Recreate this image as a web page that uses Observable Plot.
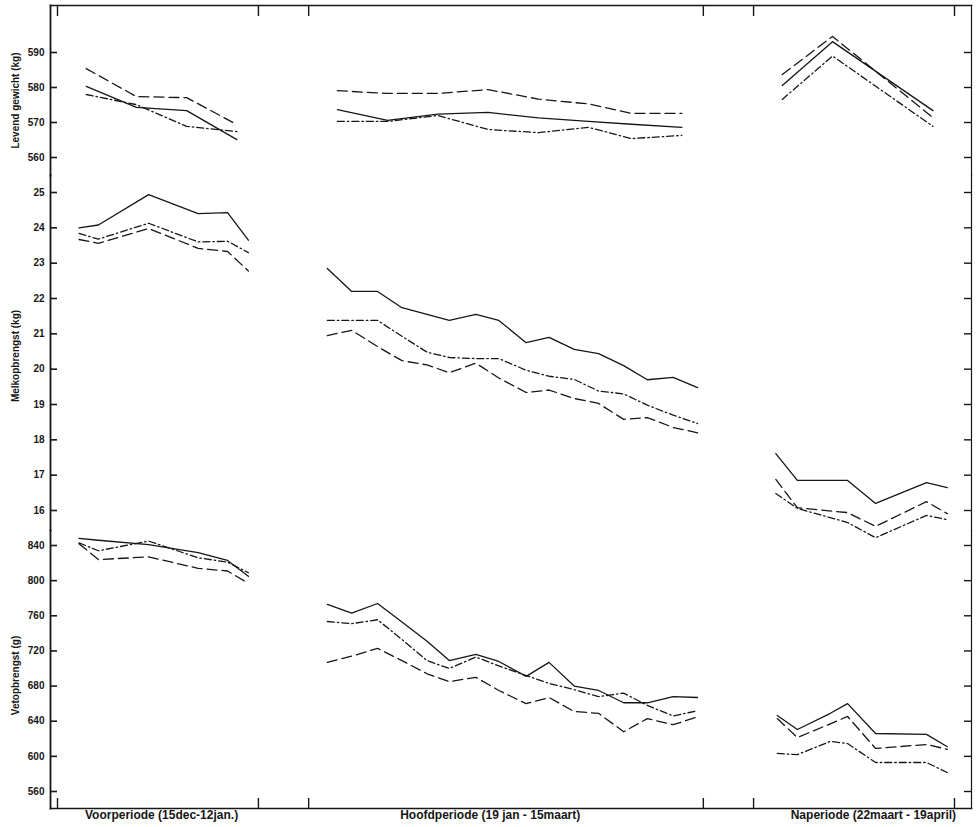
<!DOCTYPE html>
<html><head><meta charset="utf-8">
<script src="https://cdn.jsdelivr.net/npm/d3@7"></script>
<script src="https://cdn.jsdelivr.net/npm/@observablehq/plot@0.6"></script>
<style>
html,body{margin:0;padding:0;background:#fff;}
#chart{width:978px;height:827px;position:relative;}
#chart svg{display:block;overflow:visible;background:transparent;}
</style></head><body><div id="chart"></div>
<script>
// x = days since 15 december
const periodNames = ["Voorperiode (15dec-12jan.)", "Hoofdperiode (19 jan - 15maart)", "Naperiode (22maart - 19april)"];
const periodBounds = [0, 28, 35, 90, 97, 125];
const periodLabelDay = [14.5, 60.3, 113.7];

const groepen = ["Groep I", "Groep II", "Groep III"];

// Levend gewicht (kg)
const lgTicks = [560, 570, 580, 590];
const lgDays = [4, 11, 18, 25, 39, 46, 53, 60, 67, 74, 80, 87, 101, 108, 122];
const lgGroepI = [580.3, 574.3, 573.4, 565.1, 573.7, 570.6, 572.4, 572.9, 571.3, 570.3, 569.5, 568.6, 580.6, 593.1, 573.4];
const lgGroepII = [585.4, 577.4, 577.1, 569.4, 579.1, 578.3, 578.3, 579.4, 576.7, 575.3, 572.6, 572.6, 583.7, 594.6, 571.4];
const lgGroepIII = [578.0, 575.1, 568.9, 567.4, 570.3, 570.3, 572.0, 568.0, 567.1, 568.6, 565.4, 566.3, 576.6, 589.0, 568.9];

// Melkopbrengst (kg)
const melkTicks = [16, 17, 18, 19, 20, 21, 22, 23, 24, 25];
const melkDays = [3, 5.7, 12.7, 19.6, 23.7, 26.6, 37.6, 41, 44.6, 48, 51.5, 54.6, 58.3, 61.5, 65.3, 68.5, 72, 75.4, 78.9, 82.2, 85.8, 89.2, 100.1, 103.1, 110.1, 114, 121.1, 124];
const melkGroepI = [24.0, 24.08, 24.94, 24.4, 24.43, 23.65, 22.85, 22.2, 22.2, 21.74, 21.55, 21.38, 21.55, 21.38, 20.75, 20.9, 20.56, 20.44, 20.1, 19.7, 19.77, 19.48, 17.61, 16.85, 16.85, 16.2, 16.79, 16.65];
const melkGroepII = [23.67, 23.56, 23.98, 23.42, 23.33, 22.78, 20.95, 21.1, 20.64, 20.24, 20.12, 19.9, 20.17, 19.75, 19.34, 19.41, 19.17, 19.03, 18.58, 18.63, 18.35, 18.2, 16.88, 16.08, 15.94, 15.55, 16.25, 15.91];
const melkGroepIII = [23.84, 23.68, 24.13, 23.6, 23.62, 23.3, 21.38, 21.38, 21.38, 20.93, 20.48, 20.33, 20.3, 20.3, 19.97, 19.8, 19.71, 19.38, 19.3, 18.98, 18.7, 18.46, 16.48, 16.06, 15.66, 15.23, 15.86, 15.74];

// Vetopbrengst (g)
const vetTicks = [560, 600, 640, 680, 720, 760, 800, 840];
const vetDays = [3, 5.7, 12.7, 19.6, 23.7, 26.6, 37.6, 41, 44.6, 48, 51.5, 54.6, 58.3, 61.5, 65.3, 68.5, 72, 75.4, 78.9, 82.2, 85.8, 89.2, 100.3, 103.1, 107.7, 110.1, 114, 121.1, 124];
const vetGroepI = [848, 846, 841, 832, 823, 805, 773, 763, 774, 753, 731, 709, 716, 708, 691, 707, 680, 675, 661, 661, 668, 667, 646.5, 630.6, 649, 660, 626, 625, 611];
const vetGroepII = [842, 824, 827, 814, 811, 797, 707, 714, 723, 709, 694, 685, 690, 675, 660, 667, 651, 649, 628, 643, 636, 645, 643, 621.5, 637, 645.4, 609, 613.5, 608];
const vetGroepIII = [843, 834, 845, 826, 821, 809, 753.5, 751, 755.5, 733, 709, 700, 713, 703, 692, 683, 676, 668, 672, 658, 646, 652, 603.3, 602, 617, 614.6, 593, 593, 581.6];

const dash = ["none", "10,5", "7,3,1.5,3"];
const ink = "#161616";
const font = "'Liberation Sans', Arial, sans-serif";

function periodOf(d) { return d < periodBounds[1] ? 0 : d < periodBounds[3] ? 1 : 2; }

function rows(days, values, g) {
  return days.map((d, i) => ({day: d, value: values[i], groep: g, periode: periodOf(d)}));
}

function panel({height, marginTop, marginBottom, yDomain, yRange, ticks, days, series, title, titleDy, top, bottom}) {
  const marks = [];
  marks.push(Plot.frame({anchor: "left", stroke: ink, strokeWidth: 1.8}));
  marks.push(Plot.frame({anchor: "right", stroke: ink, strokeWidth: 1.2}));
  marks.push(Plot.axisY({ticks, anchor: "left", tickSize: -7, tickFormat: () => "", label: null, stroke: ink, strokeWidth: 1.6}));
  marks.push(Plot.axisY({ticks, anchor: "left", tickSize: 0, tickPadding: 6, label: null, fontSize: 10, fontWeight: "bold", fill: ink}));
  marks.push(Plot.axisY({ticks, anchor: "right", tickSize: -8, tickFormat: () => "", label: null, stroke: ink, strokeWidth: 1.4}));
  if (top) {
    marks.push(Plot.frame({anchor: "top", stroke: ink, strokeWidth: 1.5}));
    marks.push(Plot.axisX({ticks: periodBounds, anchor: "top", tickSize: -10, tickFormat: () => "", label: null, stroke: ink, strokeWidth: 1.4}));
  }
  if (bottom) {
    marks.push(Plot.frame({anchor: "bottom", stroke: ink, strokeWidth: 1.5}));
    marks.push(Plot.axisX({ticks: periodBounds, anchor: "bottom", tickSize: -10, tickFormat: () => "", label: null, stroke: ink, strokeWidth: 1.4}));
    marks.push(Plot.text(periodNames, {x: periodLabelDay, text: d => d, frameAnchor: "bottom", dy: 10, fontSize: 12, fontWeight: "bold", fill: ink, textAnchor: "middle"}));
  }
  series.forEach((vals, gi) => {
    marks.push(Plot.line(rows(days, vals, groepen[gi]), {
      x: "day", y: "value", z: "periode",
      stroke: ink, strokeWidth: 1.3,
      strokeDasharray: dash[gi]
    }));
  });
  marks.push(Plot.text([title], {text: d => d, frameAnchor: "left", textAnchor: "middle", rotate: -90, dx: -35, dy: titleDy, fontSize: 10, fontWeight: "bold", fill: ink}));
  return Plot.plot({
    width: 978, height,
    marginLeft: 50, marginRight: 7, marginTop, marginBottom,
    style: {fontFamily: font, background: "transparent", overflow: "visible"},
    x: {domain: [0, 125], range: [57, 954], axis: null},
    y: {domain: yDomain, range: yRange},
    marks
  });
}

const chart = document.getElementById("chart");
chart.appendChild(panel({
  height: 175, marginTop: 5, marginBottom: 0,
  yDomain: [560, 590], yRange: [157, 52], ticks: lgTicks,
  days: lgDays, series: [lgGroepI, lgGroepII, lgGroepIII],
  title: "Levend gewicht (kg)", titleDy: 10, top: true
}));
chart.appendChild(panel({
  height: 355, marginTop: 0, marginBottom: 0,
  yDomain: [16, 25], yRange: [335, 17], ticks: melkTicks,
  days: melkDays, series: [melkGroepI, melkGroepII, melkGroepIII],
  title: "Melkopbrengst (kg)", titleDy: 3
}));
chart.appendChild(panel({
  height: 297, marginTop: 0, marginBottom: 19,
  yDomain: [560, 840], yRange: [261, 15], ticks: vetTicks,
  days: vetDays, series: [vetGroepI, vetGroepII, vetGroepIII],
  title: "Vetopbrengst (g)", titleDy: 6, bottom: true
}));
</script></body></html>
